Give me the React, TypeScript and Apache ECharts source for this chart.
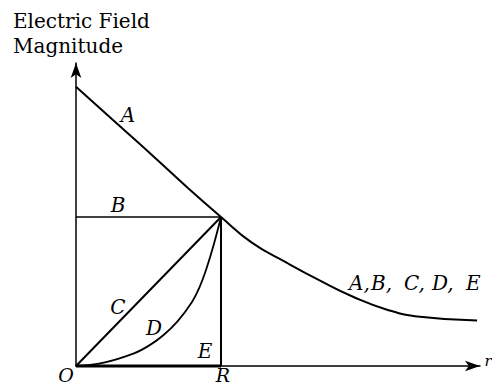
import React, { useEffect, useRef } from "react";
import * as echarts from "echarts";

// Curve A (inside r<R) continuing into the shared outside curve A,B,C,D,E
const rA = [0, 0.255, 0.531, 0.766, 1.0, 1.21, 1.455, 1.683, 1.91, 2.145, 2.372, 2.766];
const eA = [1.875, 1.651, 1.41, 1.2, 1.0, 0.83, 0.692, 0.573, 0.465, 0.378, 0.33, 0.305];
// Curve B: uniform inside
const rB = [0, 1];
const eB = [1, 1];
// Curve C: linear inside
const rC = [0, 1];
const eC = [0, 1];
// Curve D: steeply rising inside
const rD = [0, 0.2, 0.4, 0.5, 0.6, 0.7, 0.8, 0.85, 0.9, 0.95, 1.0];
const eD = [0, 0.025, 0.085, 0.135, 0.205, 0.3, 0.43, 0.525, 0.655, 0.815, 1.0];
// Curve E: zero inside, jump at R
const rE = [0, 1, 1];
const eE = [0, 0, 1];

const pts = (xs: number[], ys: number[]) => xs.map((x, i) => [x, ys[i]]);

export default function App() {
  const ref = useRef<HTMLDivElement>(null);
  useEffect(() => {
    if (!ref.current) return;
    const chart = echarts.init(ref.current, null, { renderer: "svg" });
    const lab = (text: string, x: number, y: number, size = 20, align = "center") => ({
      type: "text",
      x,
      y,
      style: {
        text,
        fontFamily: "DejaVu Serif",
        fontStyle: "italic",
        fontSize: size,
        fill: "#000",
        align,
        verticalAlign: "middle",
      },
    });
    const line = (name: string, data: number[][], width: number, smooth: any = false) => ({
      name,
      type: "line",
      data,
      symbol: "none",
      clip: false,
      smooth,
      lineStyle: { color: "#000", width },
    });
    chart.setOption({
      animation: false,
      backgroundColor: "#fff",
      grid: { left: 76, right: 12, top: 63, bottom: 21, outerBoundsMode: "none" },
      xAxis: {
        type: "value",
        min: 0,
        max: 2.786,
        axisLine: {
          show: true,
          onZero: true,
          symbol: ["none", "arrow"],
          symbolSize: [8, 15],
          lineStyle: { color: "#000", width: 1.5 },
        },
        axisTick: { show: false },
        axisLabel: { show: false },
        splitLine: { show: false },
      },
      yAxis: {
        type: "value",
        min: 0,
        max: 2.034,
        axisLine: {
          show: true,
          symbol: ["none", "arrow"],
          symbolSize: [8, 15],
          lineStyle: { color: "#000", width: 1.5 },
        },
        axisTick: { show: false },
        axisLabel: { show: false },
        splitLine: { show: false },
      },
      series: [
        line("A", pts(rA, eA), 2, 0.5),
        line("B", pts(rB, eB), 1.5),
        line("C", pts(rC, eC), 2),
        line("D", pts(rD, eD), 1.8, 0.4),
        line("E", pts(rE, eE), 2),
        line("E-base", pts(rE.slice(0, 2), eE.slice(0, 2)), 3),
      ],
      graphic: [
        {
          type: "text",
          x: 13,
          y: 21,
          style: { text: "Electric Field", fontFamily: "DejaVu Serif", fontSize: 20, fill: "#000", verticalAlign: "middle" },
        },
        {
          type: "text",
          x: 13,
          y: 46,
          style: { text: "Magnitude", fontFamily: "DejaVu Serif", fontSize: 20, fill: "#000", verticalAlign: "middle" },
        },
        lab("A", 128, 115),
        lab("B", 118, 205),
        lab("C", 118, 307),
        lab("D", 154, 328),
        lab("E", 205, 351),
        lab("O", 66, 375, 19),
        lab("R", 223, 375, 19),
        lab("r", 488, 361, 15),
        lab("A,", 349, 283, 20, "left"),
        lab("B,", 371, 283, 20, "left"),
        lab("C,", 404, 283, 20, "left"),
        lab("D,", 432, 283, 20, "left"),
        lab("E", 466, 283, 20, "left"),
      ],
    });
    return () => chart.dispose();
  }, []);
  return (
    <div
      ref={ref}
      style={{ position: "fixed", left: 0, top: 0, width: 492, height: 387, background: "#fff" }}
    />
  );
}
